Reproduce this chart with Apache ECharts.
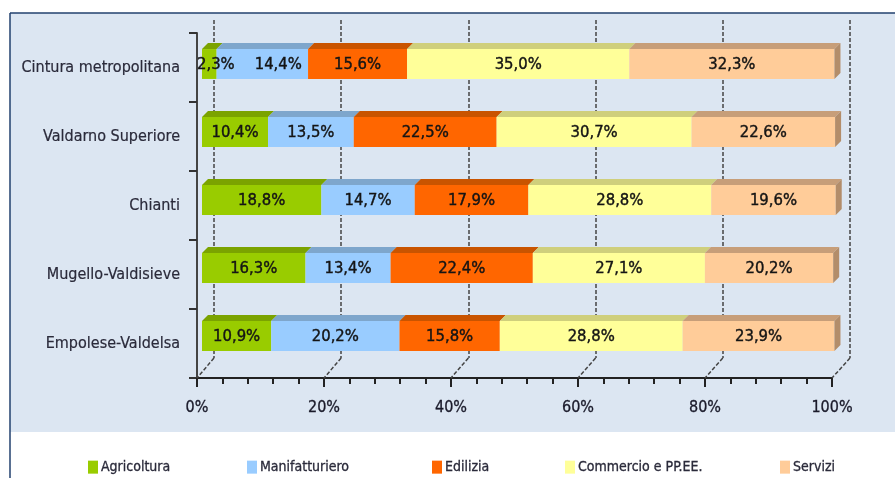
<!DOCTYPE html>
<html>
<head>
<meta charset="utf-8">
<script src="https://cdn.jsdelivr.net/npm/echarts@6/dist/echarts.min.js"></script>
<style>
  html, body { margin: 0; padding: 0; background: #ffffff; }
  #chart { width: 895px; height: 478px; }
</style>
</head>
<body>
<div id="chart"></div>
<script>
// Employment share by sector in the Florence sub-areas (stacked to 100%)
const categories = [
  'Cintura metropolitana',
  'Valdarno Superiore',
  'Chianti',
  'Mugello-Valdisieve',
  'Empolese-Valdelsa'
];
const sectorNames = ['Agricoltura', 'Manifatturiero', 'Edilizia', 'Commercio e PP.EE.', 'Servizi'];
const agricoltura    = [2.3, 10.4, 18.8, 16.3, 10.9];
const manifatturiero = [14.4, 13.5, 14.7, 13.4, 20.2];
const edilizia       = [15.6, 22.5, 17.9, 22.4, 15.8];
const commercio      = [35.0, 30.7, 28.8, 27.1, 28.8];
const servizi        = [32.3, 22.6, 19.6, 20.2, 23.9];
const xTicks = [0, 20, 40, 60, 80, 100];

const sectorValues = [agricoltura, manifatturiero, edilizia, commercio, servizi];
const frontColors = ['#99cc00', '#99ccff', '#ff6600', '#ffff99', '#ffcc99'];
const topColors   = ['#7ba300', '#7ea6cc', '#c95400', '#cfcf7c', '#c79e79'];
const sideColor   = '#b38d6a';

const FONT = '"DejaVu Sans Condensed", "Liberation Sans Narrow", sans-serif';
const LABEL_FONT = '16.5px ' + FONT;
const DEPTH = 6;

const measureCtx = document.createElement('canvas').getContext('2d');
measureCtx.font = LABEL_FONT;
function textWidth(t) { return measureCtx.measureText(t).width; }
function fmt(v) { return v.toFixed(1).replace('.', ',') + '%'; }

// cumulative starts for every sector, per category
const starts = sectorValues.map((vals, s) =>
  vals.map((v, c) => sectorValues.slice(0, s).reduce((a, arr) => a + arr[c], 0)));

// label centres in pixel space, spreading narrow segments so texts don't collide
function labelCentres(api, catIdx) {
  const out = [];
  let prevEnd = -Infinity;
  for (let s = 0; s < sectorValues.length; s++) {
    const v = sectorValues[s][catIdx];
    const a = api.coord([starts[s][catIdx], catIdx])[0];
    const b = api.coord([starts[s][catIdx] + v, catIdx])[0];
    const w = textWidth(fmt(v));
    let cx = (a + b) / 2;
    const narrow = w > b - a;
    if (narrow) cx = a - 5 + w / 2;
    else if (out.length && out[out.length - 1].narrow && cx - w / 2 < prevEnd + 20) {
      cx = prevEnd + 20 + w / 2;
    }
    out.push({ cx: cx, narrow: narrow });
    prevEnd = cx + w / 2;
  }
  return out;
}

function makeRender(sIdx) {
  return function (params, api) {
    const x0v = api.value(0), x1v = api.value(1), cat = api.value(2), val = api.value(3);
    const p0 = api.coord([x0v, cat]);
    const p1 = api.coord([x1v, cat]);
    const band = api.size([0, 1])[1];
    const h = band * 0.44;
    const yTop = p0[1] - h / 2, yBot = p0[1] + h / 2;
    const xa = p0[0], xb = p1[0];
    const children = [
      { type: 'polygon', shape: { points: [[xa, yTop], [xb, yTop], [xb + DEPTH, yTop - DEPTH], [xa + DEPTH, yTop - DEPTH]] },
        style: { fill: topColors[sIdx] } },
      { type: 'rect', shape: { x: xa, y: yTop, width: xb - xa, height: h },
        style: { fill: frontColors[sIdx] } }
    ];
    if (sIdx === sectorValues.length - 1) {
      children.push({ type: 'polygon',
        shape: { points: [[xb, yTop], [xb + DEPTH, yTop - DEPTH], [xb + DEPTH, yBot - DEPTH], [xb, yBot]] },
        style: { fill: sideColor } });
    }
    const lc = labelCentres(api, cat)[sIdx];
    children.push({ type: 'text', z2: 10,
      style: { text: fmt(val), x: lc.cx, y: p0[1] + 1, align: 'center', verticalAlign: 'middle',
               font: LABEL_FONT, fill: '#141414', stroke: '#141414', lineWidth: 0.4 } });
    return { type: 'group', children: children };
  };
}

const series = sectorNames.map((name, s) => ({
  type: 'custom',
  name: name,
  xAxisIndex: 0,
  yAxisIndex: 0,
  itemStyle: { color: frontColors[s] },
  encode: { x: [0, 1], y: 2 },
  renderItem: makeRender(s),
  data: sectorValues[s].map((v, c) => [starts[s][c], starts[s][c] + v, c, v])
}));

const legendLefts = [88, 247, 432, 565, 780];
const legends = sectorNames.map((name, i) => ({
  data: [name],
  left: legendLefts[i],
  top: 460,
  padding: 0,
  icon: 'rect',
  itemWidth: 10,
  itemHeight: 13,
  itemGap: 4,
  selectedMode: false,
  textStyle: { fontFamily: FONT, fontSize: 14, color: '#2a2a3a', padding: [0, 0, 0, -2],
               textBorderColor: '#2a2a3a', textBorderWidth: 0.3 }
}));

const chart = echarts.init(document.getElementById('chart'), null, { renderer: 'canvas' });

const option = {
  animation: false,
  backgroundColor: '#ffffff',
  graphic: [
    { id: 'panel', type: 'rect', z: -100, shape: { x: 10, y: 13, width: 885, height: 419 }, style: { fill: '#dce6f2' } },
    { id: 'borderTop', type: 'line', z: 100, shape: { x1: 10, y1: 13, x2: 895, y2: 13 }, style: { stroke: '#22406e', lineWidth: 1.5 } },
    { id: 'borderLeft', type: 'line', z: 100, shape: { x1: 10, y1: 13, x2: 10, y2: 478 }, style: { stroke: '#22406e', lineWidth: 1.5 } }
  ],
  legend: legends,
  grid: [
    { left: 202, width: 635, top: 30, height: 340, outerBoundsMode: 'none' },   // bars
    { left: 197, width: 635, top: 33, height: 345, outerBoundsMode: 'none' },   // front axes
    { left: 214, width: 636, top: 20, height: 338, outerBoundsMode: 'none' }    // back wall gridlines
  ],
  xAxis: [
    { gridIndex: 0, type: 'value', min: 0, max: 100, show: false },
    { gridIndex: 1, type: 'value', min: 0, max: 100, interval: 20,
      axisLine: { show: true, lineStyle: { color: '#222', width: 2 } },
      axisTick: { show: true, length: 9, lineStyle: { color: '#222', width: 2 } },
      minorTick: { show: true, splitNumber: 5, length: 6, lineStyle: { color: '#222', width: 2 } },
      splitLine: { show: false },
      axisLabel: { margin: 22, fontFamily: FONT, fontSize: 16, color: '#1a1a2a',
                   textBorderColor: '#1a1a2a', textBorderWidth: 0.3,
                   formatter: v => xTicks.includes(v) ? v + '%' : '' } },
    { gridIndex: 2, type: 'value', min: 0, max: 100, interval: 20,
      axisLine: { show: false }, axisTick: { show: false }, axisLabel: { show: false },
      splitLine: { show: true, lineStyle: { color: '#444', width: 1.5, type: [4, 2] } } }
  ],
  yAxis: [
    { gridIndex: 0, type: 'category', data: categories, inverse: true, show: false },
    { gridIndex: 1, type: 'category', data: categories, inverse: true,
      axisLine: { show: true, lineStyle: { color: '#444', width: 2 } },
      axisTick: { show: true, length: 8, lineStyle: { color: '#333', width: 2 } },
      axisLabel: { margin: 17, fontFamily: FONT, fontSize: 16, color: '#2a2a3a',
                   textBorderColor: '#2a2a3a', textBorderWidth: 0.2 } },
    { gridIndex: 2, type: 'value', show: false, min: 0, max: 1 }
  ],
  series: series
};

chart.setOption(option);

// floor edges joining the back-wall gridlines to the front axis
const floorLines = xTicks.map((v, i) => {
  const xf = chart.convertToPixel({ xAxisIndex: 1 }, v);
  const xb = chart.convertToPixel({ xAxisIndex: 2 }, v);
  return { id: 'floor' + i, type: 'line', z: 1,
           shape: { x1: xb, y1: 358, x2: xf, y2: 378 },
           style: { stroke: '#444', lineWidth: 1.5, lineDash: [4, 2] } };
});
chart.setOption({ graphic: floorLines });
</script>
</body>
</html>
